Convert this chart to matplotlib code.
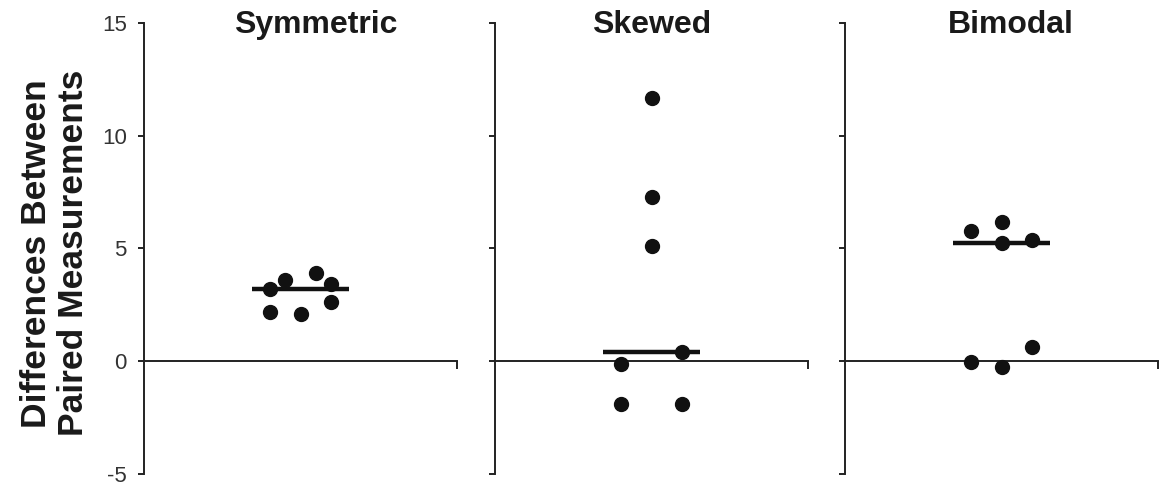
import matplotlib
matplotlib.use("Agg")
import matplotlib.pyplot as plt
import numpy as np

plt.rcParams['font.family'] = ['Liberation Sans', 'DejaVu Sans']
plt.rcParams['axes.unicode_minus'] = False

titles = ['Symmetric', 'Skewed', 'Bimodal']

sym_x = [-2, -1, 1, 2, 2, -2, 0]
sym_y = [3.21, 3.60, 3.91, 3.40, 2.62, 2.18, 2.09]

skew_x = [0, 0, 0, 2, -2, -2, 2]
skew_y = [11.69, 7.28, 5.09, 0.38, -0.13, -1.90, -1.90]

bim_x = [-2, 0, 0, 2, 2, -2, 0]
bim_y = [5.75, 6.18, 5.24, 5.37, 0.63, -0.06, -0.28]

y_ticks = [-5, 0, 5, 10, 15]

series = [(sym_x, sym_y), (skew_x, skew_y), (bim_x, bim_y)]

fig = plt.figure(figsize=(11.66, 4.86), dpi=100)

lefts = [144 / 1166, 495 / 1166, 845 / 1166]
width = 313 / 1166
bottom = (486 - 473.5) / 486
height = (473.5 - 23) / 486
title_x = [0.55, 0.50, 0.529]

ink = '#222222'
for i, (xs, ys) in enumerate(series):
    ax = fig.add_axes([lefts[i], bottom, width, height])
    ax.set_xlim(-10.43, 10.43)
    ax.set_ylim(-5, 15)

    ax.plot(xs, ys, 'o', color='#111111', markersize=10, zorder=3)
    med = np.median(ys)
    ax.plot([-3.2, 3.2], [med, med], color='#111111', linewidth=3.2, zorder=2,
            solid_capstyle='butt')

    for s in ['top', 'right']:
        ax.spines[s].set_visible(False)
    ax.spines['bottom'].set_position(('data', 0))
    ax.spines['left'].set_color(ink)
    ax.spines['bottom'].set_color(ink)
    ax.spines['left'].set_linewidth(1.4)
    ax.spines['bottom'].set_linewidth(1.4)

    ax.set_yticks(y_ticks)
    ax.set_xticks([10.43])
    ax.set_xticklabels([])
    ax.tick_params(axis='x', direction='out', length=5.5, width=1.4, color=ink)
    ax.tick_params(axis='y', direction='out', length=4.5, width=1.4, color=ink,
                   labelsize=16, labelcolor='#333333', pad=8)
    if i > 0:
        ax.set_yticklabels([])

    ax.text(title_x[i], 1 - 10 / 450.5, titles[i], transform=ax.transAxes,
            ha='center', va='baseline', fontsize=23, fontweight='bold',
            color='#1a1a1a')

fig.text(55 / 1166, 0.479, 'Differences Between\nPaired Measurements',
         rotation=90, ha='center', va='center', multialignment='center',
         fontsize=25.5, fontweight='bold', color='#1a1a1a', linespacing=1.15)

fig.savefig('out.png', dpi=100)
